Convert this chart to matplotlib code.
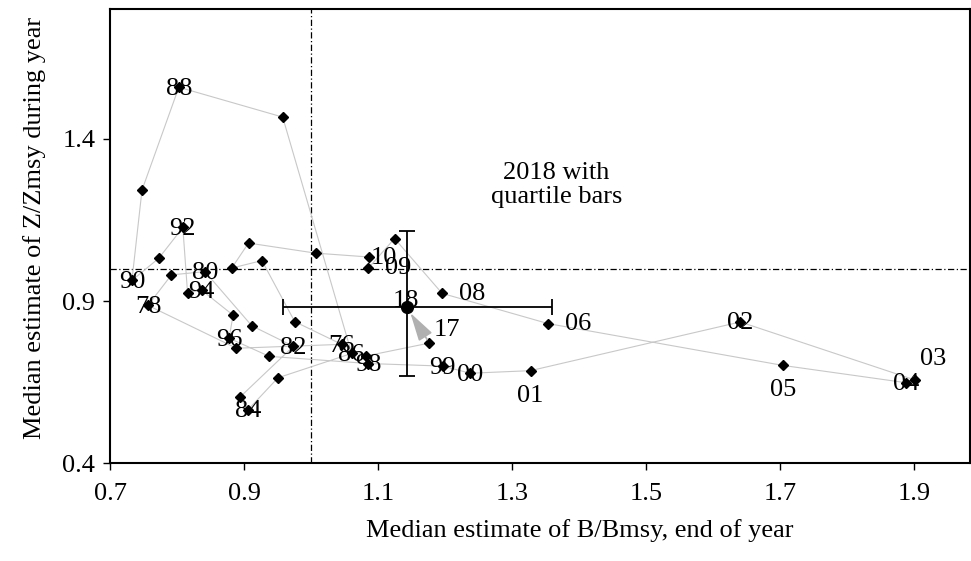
import matplotlib
matplotlib.use("Agg")
import matplotlib.pyplot as plt

plt.rcParams['font.family'] = ['Liberation Serif', 'DejaVu Serif']

# Trajectory 1976..2017 (in drawing order)
b_vals = [1.045, 0.888, 0.756, 0.791, 0.841, 0.911, 0.973, 0.893, 0.905, 0.950,
          1.060, 0.957, 0.802, 0.747, 0.732, 0.772, 0.808, 0.815, 0.836, 0.883,
          0.877, 0.937, 1.085, 1.196, 1.237, 1.327, 1.640, 1.901, 1.887, 1.704,
          1.353, 1.195, 1.124, 1.085, 1.086, 1.006, 0.906, 0.881, 0.926, 0.975,
          1.081, 1.176]
z_vals = [0.767, 0.755, 0.887, 0.981, 0.991, 0.824, 0.761, 0.604, 0.565, 0.664,
          0.739, 1.467, 1.559, 1.242, 0.964, 1.032, 1.127, 0.926, 0.934, 0.857,
          0.786, 0.730, 0.708, 0.700, 0.678, 0.686, 0.836, 0.657, 0.649, 0.702,
          0.831, 0.924, 1.093, 1.002, 1.036, 1.048, 1.079, 1.002, 1.025, 0.837,
          0.731, 0.771]
point_labels = ["76", "", "78", "", "80", "", "82", "", "84", "",
                "86", "", "88", "", "90", "", "92", "", "94", "",
                "96", "", "98", "99", "00", "01", "02", "03", "04", "05",
                "06", "08", "", "09", "10", "", "", "", "", "",
                "", "17"]

# 2018 estimate with quartile bars
b_2018 = 1.142
z_2018 = 0.882
b_2018_q = [0.957, 1.359]
z_2018_q = [0.670, 1.115]
label_2018 = "18"

# reference lines
b_ref = 1.0
z_ref = 1.0

x_ticks = [0.7, 0.9, 1.1, 1.3, 1.5, 1.7, 1.9]
y_ticks = [0.4, 0.9, 1.4]

# label placement (offset pixels from point)
label_offsets = {"01": (0, -25), "03": (18, 21), "05": (0, -25), "06": (30, 0),
                 "08": (30, -1), "09": (30, 0), "10": (15, -1), "17": (18, 13)}

FS = 19
fig = plt.figure(figsize=(9.71, 5.61), dpi=100)
ax = fig.add_axes([0.1138, 0.1738, 0.8852, 0.8102])

ax.axvline(b_ref, color='black', lw=0.9, dashes=(5, 2, 1, 2), zorder=1)
ax.axhline(z_ref, color='black', lw=0.9, dashes=(5, 2, 1, 2), zorder=1)

ax.plot(b_vals, z_vals, color='#c8c8c8', lw=0.8, zorder=2)
ax.plot(b_vals, z_vals, linestyle='none', marker='D', ms=4.8,
        color='black', zorder=3)

# quartile bars
ax.errorbar([b_2018], [z_2018],
            xerr=[[b_2018 - b_2018_q[0]], [b_2018_q[1] - b_2018]],
            yerr=[[z_2018 - z_2018_q[0]], [z_2018_q[1] - z_2018]],
            fmt='o', color='black', ms=8.5, elinewidth=1.3, capsize=6,
            capthick=1.3, zorder=4)

# arrow from 2017 to 2018
ax.annotate("", xy=(b_2018, z_2018), xytext=(b_vals[-1], z_vals[-1]),
            arrowprops=dict(arrowstyle='-|>,head_length=1.1,head_width=0.3',
                            color='#b0b0b0', lw=1.2,
                            mutation_scale=16, shrinkA=3, shrinkB=5),
            zorder=3)

for b, z, lab in zip(b_vals, z_vals, point_labels):
    if not lab:
        continue
    dx, dy = label_offsets.get(lab, (0, -1.5))
    ax.annotate(lab, (b, z), xytext=(dx, dy), textcoords='offset pixels',
                ha='center', va='center', fontsize=FS, zorder=5)
ax.annotate(label_2018, (b_2018, z_2018), xytext=(-1, 6),
            textcoords='offset pixels', ha='center', va='center',
            fontsize=FS, zorder=5)

ax.text(1.366, 1.257, "2018 with\nquartile bars", ha='center', va='center',
        fontsize=FS, linespacing=1.1)

ax.set_xlim(0.7, 1.983)
ax.set_ylim(0.4, 1.8)
ax.set_xticks(x_ticks)
ax.set_xticklabels([f"{t:.1f}" for t in x_ticks])
ax.set_yticks(y_ticks)
ax.set_yticklabels([f"{t:.1f}" for t in y_ticks])
ax.tick_params(axis='x', direction='out', length=5, width=1, labelsize=FS, pad=9)
ax.tick_params(axis='y', direction='out', length=5, width=1, labelsize=FS, pad=6)

for s in ax.spines.values():
    s.set_linewidth(1.5)
    s.set_color('black')

ax.set_xlabel("Median estimate of B/Bmsy, end of year", fontsize=FS, labelpad=10, x=0.546)
ax.set_ylabel("Median estimate of Z/Zmsy during year", fontsize=FS, labelpad=12, y=0.518)

fig.savefig("out.png", dpi=100)
